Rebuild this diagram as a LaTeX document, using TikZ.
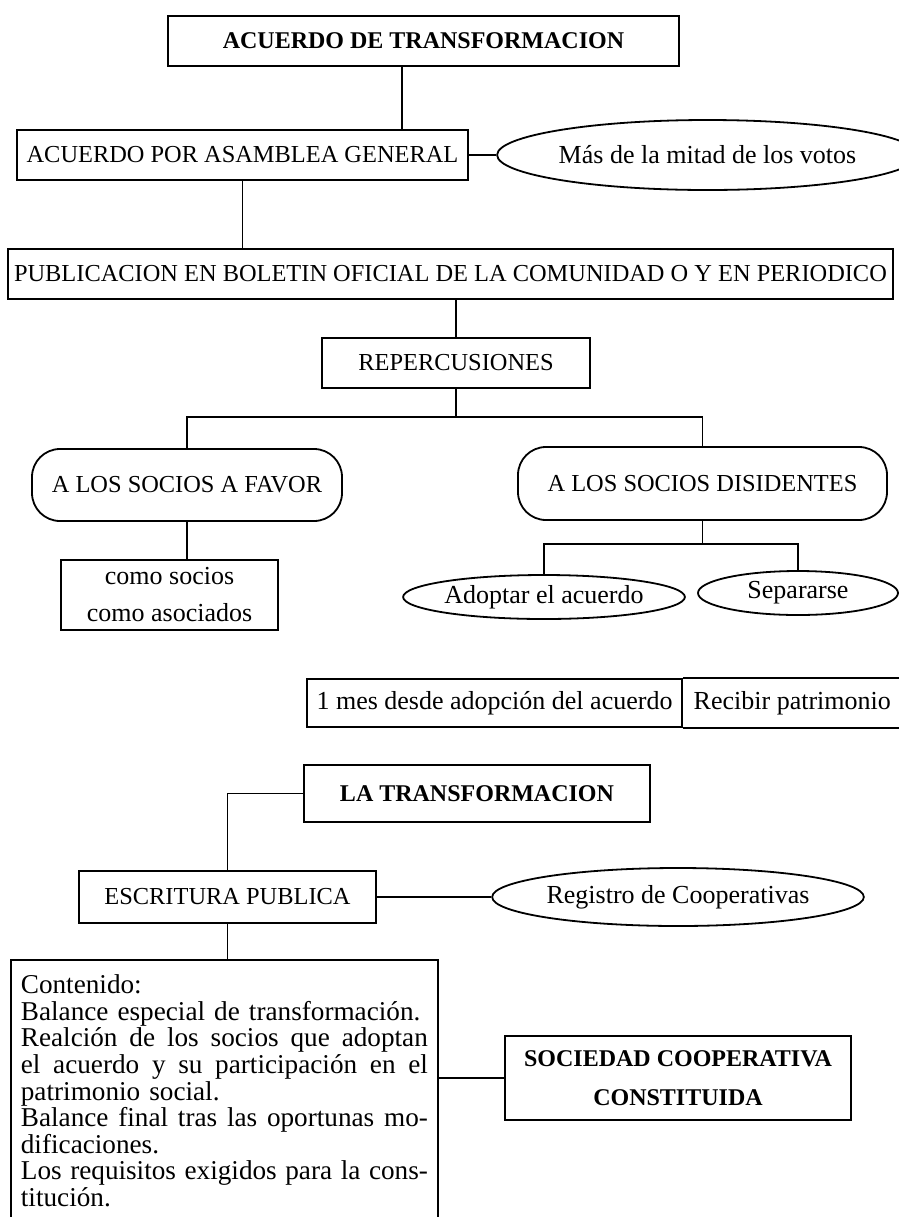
\documentclass[tikz,border=0pt]{standalone}
\usepackage{fontspec}
\setmainfont{Liberation Serif}
\usepackage{tikz}
\usetikzlibrary{shapes.geometric}
\setlength{\parindent}{0pt}

\newcommand{\capsize}{\fontsize{12.2}{14}\selectfont}
\newcommand{\lowsize}{\fontsize{13}{15}\selectfont}
\newcommand{\boldsize}{\fontsize{12}{19.5}\selectfont\bfseries}
\newcommand{\contsize}{\fontsize{13.6}{13.3}\selectfont}
\newlength{\anchocont}
\setlength{\anchocont}{203.5pt}
\newcommand{\linea}[1]{{\spaceskip=0.25em plus 1em\makebox[\anchocont][s]{#1}}}

\tikzset{
  caja/.style={draw, rectangle, inner sep=0pt, minimum height=25pt, font=\capsize},
  elipse/.style={draw, ellipse, inner sep=0pt, font=\lowsize},
  capsula/.style={draw, rectangle, rounded corners=14pt, inner sep=0pt, font=\capsize},
  celda/.style={rectangle, inner sep=0pt, minimum height=24pt, font=\lowsize}
}

\begin{document}
\begin{tikzpicture}[x=0.5pt, y=-0.5pt, line width=0.9pt]
\useasboundingbox (0,0) rectangle (899,1217);

\node[caja, font=\boldsize, minimum width=255.5pt] (trans) at (423.5,41) {ACUERDO DE TRANSFORMACION};
\node[caja, minimum width=225.5pt] (asamblea) at (242.5,155) {ACUERDO POR ASAMBLEA GENERAL};
\node[elipse, minimum width=190.5pt, minimum height=35pt] (votos) at (707.5,155) {Más de la mitad de los votos};
\node[caja, minimum width=442.5pt] (boletin) at (450.5,274) {PUBLICACION EN BOLETIN OFICIAL DE LA COMUNIDAD O Y EN PERIODICO};
\node[caja, minimum width=134pt] (repercusiones) at (456,363) {REPERCUSIONES};

\node[capsula, minimum width=155pt, minimum height=36pt] (favor) at (187,485) {A LOS SOCIOS A FAVOR};
\node[capsula, minimum width=184.5pt, minimum height=36.5pt] (disidentes) at (702.5,483.5) {A LOS SOCIOS DISIDENTES};
\node[caja, font=\lowsize, align=center, minimum width=108.5pt, minimum height=35pt] (socios) at (169.5,595) {como socios\\[3.5pt]como asociados};
\node[elipse, minimum width=136pt, minimum height=22pt] (adoptar) at (544,597) {Adoptar el acuerdo};
\node[elipse, minimum width=100pt, minimum height=22pt] (separarse) at (798,593) {Separarse};

\node[celda, draw, minimum width=187.5pt] (mes) at (494.5,703) {1 mes desde adopción del acuerdo};
\node[celda, minimum width=108.5pt, anchor=west] (recibir) at (mes.east) {Recibir patrimonio};
\draw (recibir.north west) -- (recibir.north east);
\draw (recibir.south west) -- (recibir.south east);

\node[caja, font=\boldsize, minimum width=173pt, minimum height=28.5pt] (latrans) at (477,793.5) {LA TRANSFORMACION};
\node[caja, minimum width=148.5pt, minimum height=26pt] (escritura) at (227.5,897) {ESCRITURA PUBLICA};
\node[elipse, minimum width=179pt, minimum height=29pt] (registro) at (678,897) {Registro de Cooperativas};

\node[anchor=north west, text width=\anchocont, inner xsep=4.5pt, inner ysep=7pt, font=\contsize] (contenido) at (11,960)
  {Contenido:\\
   Balance especial de transformación.\\
   \linea{Realción de los socios que adoptan}\\
   \linea{el acuerdo y su participación en el}\\
   patrimonio social.\\
   \linea{Balance final tras las oportunas mo-}\\
   dificaciones.\\
   \linea{Los requisitos exigidos para la cons-}\\
   titución.};
\coordinate (fondo) at (0,1217);
\draw (contenido.north west |- fondo) -- (contenido.north west) -- (contenido.north east) -- (contenido.north east |- fondo);

\node[caja, font=\boldsize, align=center, minimum width=173pt, minimum height=42pt] (sociedad) at (678,1078) {SOCIEDAD COOPERATIVA\\CONSTITUIDA};

\coordinate (c1) at (402,0);
\draw (trans.south -| c1) -- (asamblea.north -| c1);
\draw (asamblea) -- (votos);
\draw (asamblea.south) -- (boletin.north -| asamblea.south);
\draw (boletin.south -| repercusiones.north) -- (repercusiones.north);
\draw (repercusiones.south) -- ++(0,28) coordinate (r1);
\draw (favor) |- (r1) -| (disidentes);
\draw (favor.south) -- (socios.north -| favor.south);
\draw (disidentes.south) -- ++(0,23) coordinate (r2);
\draw (adoptar) |- (r2) -| (separarse);

\draw (latrans) -| (escritura);
\draw (escritura) -- (registro);
\draw (escritura) -- (escritura |- contenido.north);
\draw (contenido.north east |- sociedad) -- (sociedad);
\end{tikzpicture}
\end{document}
